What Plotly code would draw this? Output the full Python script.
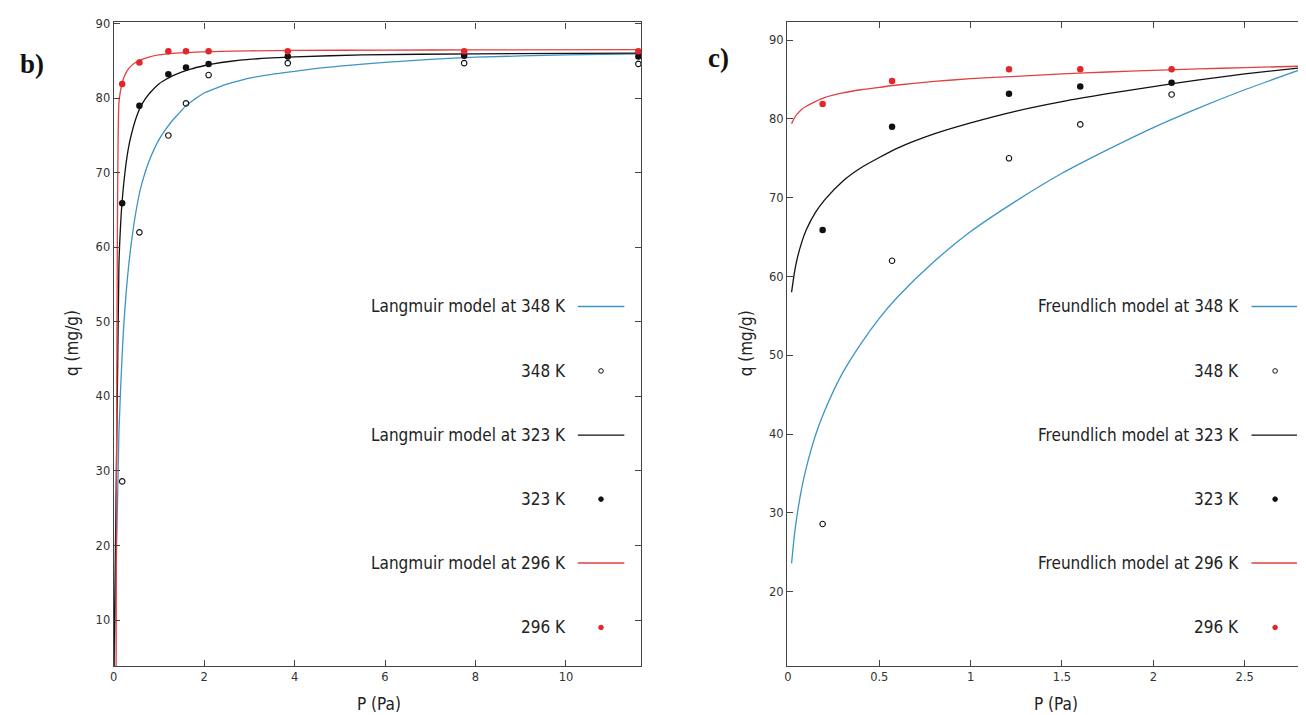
import plotly.graph_objects as go

# ---------------- data ----------------
# experimental points (P in Pa, q in mg/g)
P_exp = [0.19, 0.57, 1.21, 1.6, 2.1, 3.85, 7.75, 11.6]
q_296 = [81.9, 84.8, 86.3, 86.3, 86.3, 86.3, 86.3, 86.3]
q_323 = [65.9, 79.0, 83.2, 84.1, 84.6, 85.6, 85.7, 85.6]
q_348 = [28.6, 62.0, 75.0, 79.3, 83.1, 84.7, 84.7, 84.6]

# Langmuir model curves
P_lang_296 = [0.055, 0.117, 0.15, 0.2, 0.25, 0.3, 0.4, 0.5, 0.6, 0.8, 1.0, 1.3, 1.7, 2.2, 3.0, 4.0, 6.0, 8.0, 11.66]
q_lang_296 = [0.0, 79.3, 80.9, 82.3, 83.1, 83.7, 84.4, 84.85, 85.15, 85.55, 85.8, 86.0, 86.15, 86.25, 86.35, 86.4, 86.45, 86.47, 86.5]
P_lang_323 = [0.0, 0.117, 0.15, 0.19, 0.25, 0.3, 0.35, 0.4, 0.5, 0.6, 0.7, 0.8, 1.0, 1.15, 1.3, 1.5, 1.7, 2.0, 2.2, 2.6, 3.0, 3.5, 4.0, 5.5, 8.0, 11.66]
q_lang_323 = [0.0, 57.5, 62.5, 66.3, 70.0, 72.3, 74.0, 75.3, 77.4, 78.9, 79.9, 80.7, 81.9, 82.5, 83.0, 83.5, 83.9, 84.35, 84.6, 84.95, 85.2, 85.4, 85.55, 85.8, 85.95, 86.05]
P_lang_348 = [0.0, 0.117, 0.2, 0.3, 0.4, 0.5, 0.6, 0.7, 0.8, 0.9, 1.0, 1.15, 1.3, 1.45, 1.6, 1.8, 2.0, 2.25, 2.5, 2.75, 3.0, 3.5, 4.0, 4.5, 5.0, 6.0, 7.0, 8.0, 10.0, 11.66]
q_lang_348 = [0.0, 35.0, 47.0, 55.5, 61.0, 65.0, 68.0, 70.1, 71.8, 73.2, 74.4, 75.8, 77.0, 78.0, 79.0, 79.9, 80.7, 81.3, 81.9, 82.3, 82.7, 83.2, 83.6, 84.0, 84.3, 84.8, 85.2, 85.5, 85.8, 85.95]

# Freundlich model curves
P_freu = [0.02, 0.035, 0.05, 0.075, 0.1, 0.15, 0.2, 0.3, 0.4, 0.5, 0.6, 0.8, 1.0, 1.25, 1.5, 1.75, 2.0, 2.25, 2.5, 2.83]
q_freu_296 = [79.4, 80.1, 80.6, 81.2, 81.6, 82.2, 82.7, 83.3, 83.7, 84.0, 84.3, 84.75, 85.1, 85.4, 85.7, 85.95, 86.15, 86.35, 86.5, 86.7]
q_freu_323 = [58.0, 60.4, 62.2, 64.3, 65.9, 68.1, 69.7, 72.1, 73.8, 75.1, 76.3, 78.1, 79.5, 81.0, 82.2, 83.2, 84.1, 84.95, 85.7, 86.55]
q_freu_348 = [23.6, 27.1, 29.7, 33.1, 35.7, 39.8, 42.9, 47.8, 51.5, 54.7, 57.4, 61.9, 65.7, 69.6, 73.1, 76.1, 78.9, 81.4, 83.7, 86.45]

n_right = 5  # experimental points visible in panel c

labels_b = ["Langmuir model at 348 K", "348 K", "Langmuir model at 323 K", "323 K",
            "Langmuir model at 296 K", "296 K"]
labels_c = ["Freundlich model at 348 K", "348 K", "Freundlich model at 323 K", "323 K",
            "Freundlich model at 296 K", "296 K"]

# ---------------- style ----------------
PAGE_W, PAGE_H = 1306, 715
OFF = 8  # default page body margin
W, H = PAGE_W - OFF, PAGE_H - OFF
RED = "#e3262b"
RED_LINE = "#e2403f"
BLUE = "#3d94c6"
BLACK = "#111111"
AXC = "#444444"
TXT = "#222222"
SANS = "DejaVu Sans Condensed, DejaVu Sans, sans-serif"


def px(x):
    return (x - OFF) / W


def py(y):
    return 1 - (y - OFF) / H


fig = go.Figure()


def add_panel(xa, ya, curves, pts_P, n):
    for P, q, col in curves:
        fig.add_trace(go.Scatter(x=P, y=q, mode="lines",
                                 line=dict(color=col, width=1.3, shape="spline", smoothing=0.6),
                                 xaxis=xa, yaxis=ya, showlegend=False, hoverinfo="skip"))
    fig.add_trace(go.Scatter(x=pts_P[:n], y=q_348[:n], mode="markers",
                             marker=dict(symbol="circle-open", size=5.5, color=BLACK, line=dict(width=1.1)),
                             xaxis=xa, yaxis=ya, showlegend=False))
    fig.add_trace(go.Scatter(x=pts_P[:n], y=q_323[:n], mode="markers",
                             marker=dict(symbol="circle", size=6.5, color=BLACK),
                             xaxis=xa, yaxis=ya, showlegend=False))
    fig.add_trace(go.Scatter(x=pts_P[:n], y=q_296[:n], mode="markers",
                             marker=dict(symbol="circle", size=6.5, color=RED),
                             xaxis=xa, yaxis=ya, showlegend=False))


add_panel("x", "y", [(P_lang_348, q_lang_348, BLUE), (P_lang_323, q_lang_323, BLACK),
                     (P_lang_296, q_lang_296, RED_LINE)], P_exp, len(P_exp))
add_panel("x2", "y2", [(P_freu, q_freu_348, BLUE), (P_freu, q_freu_323, BLACK),
                       (P_freu, q_freu_296, RED_LINE)], P_exp, n_right)

axis_common = dict(showgrid=False, zeroline=False, showline=True, linecolor=AXC, linewidth=1.2,
                   mirror="ticks", ticks="inside", ticklen=6, tickcolor=AXC, tickwidth=1,
                   tickfont=dict(family="DejaVu Sans, sans-serif", size=11.5, color="#333333"))

ytop, ybot = 16.5, 666
fig.update_layout(
    width=W, height=H, margin=dict(l=0, r=0, t=0, b=0),
    paper_bgcolor="white", plot_bgcolor="white", showlegend=False,
    xaxis=dict(domain=[px(110), px(639.5)], range=[0, 11.66], tick0=0, dtick=2, anchor="y", **axis_common),
    yaxis=dict(domain=[py(ybot), py(ytop)], range=[3.78, 90.16], tick0=0, dtick=10, anchor="x", **axis_common),
    xaxis2=dict(domain=[px(786), 1.0], range=[-0.005, 2.83], tick0=0, dtick=0.5, anchor="y2", **axis_common),
    yaxis2=dict(domain=[py(ybot), py(15.7)], range=[10.53, 92.34], tick0=0, dtick=10, anchor="x2", **axis_common),
)

annotations = []
shapes = []

# axis titles
for xc in (376, 1056):
    annotations.append(dict(x=px(xc), y=py(704), xref="paper", yref="paper", text="P (Pa)", showarrow=False,
                            font=dict(family=SANS, size=17, color=TXT), xanchor="center", yanchor="middle"))
for xc in (68, 745):
    annotations.append(dict(x=px(xc), y=py(340), xref="paper", yref="paper", text="q (mg/g)", showarrow=False,
                            textangle=-90, font=dict(family=SANS, size=17, color=TXT),
                            xanchor="center", yanchor="middle"))

# panel labels
annotations.append(dict(x=px(28), y=py(58), xref="paper", yref="paper", text="<b>b)</b>", showarrow=False,
                        font=dict(family="Liberation Serif, serif", size=27, color="#111"),
                        xanchor="center", yanchor="middle"))
annotations.append(dict(x=px(717), y=py(52), xref="paper", yref="paper", text="<b>c)</b>", showarrow=False,
                        font=dict(family="Liberation Serif, serif", size=27, color="#111"),
                        xanchor="center", yanchor="middle"))

# custom legends (gnuplot style)
rows_y = [303, 368, 432.7, 497.3, 561.7, 626.7]
kinds = [("line", BLUE), ("open", BLACK), ("line", BLACK), ("dot", BLACK), ("line", RED_LINE), ("dot", RED)]
for labels, text_right, l0, l1, mx in ((labels_b, 566, 576, 622.7, 599.3),
                                       (labels_c, 1241.7, 1252.3, 1298, 1276)):
    for lab, yy, (kind, col) in zip(labels, rows_y, kinds):
        annotations.append(dict(x=px(text_right), y=py(yy), xref="paper", yref="paper", text=lab,
                                showarrow=False, font=dict(family=SANS, size=17, color=TXT),
                                xanchor="right", yanchor="middle"))
        if kind == "line":
            shapes.append(dict(type="line", xref="paper", yref="paper", x0=px(l0), x1=px(l1),
                               y0=py(yy), y1=py(yy), line=dict(color=col, width=1.3)))
        else:
            r = 2.3
            shapes.append(dict(type="circle", xref="paper", yref="paper", x0=px(mx - r), x1=px(mx + r),
                               y0=py(yy + r), y1=py(yy - r),
                               fillcolor=(col if kind == "dot" else "white"),
                               line=dict(color=col, width=1)))

fig.update_layout(annotations=annotations, shapes=shapes)
fig.write_html("out.html")
